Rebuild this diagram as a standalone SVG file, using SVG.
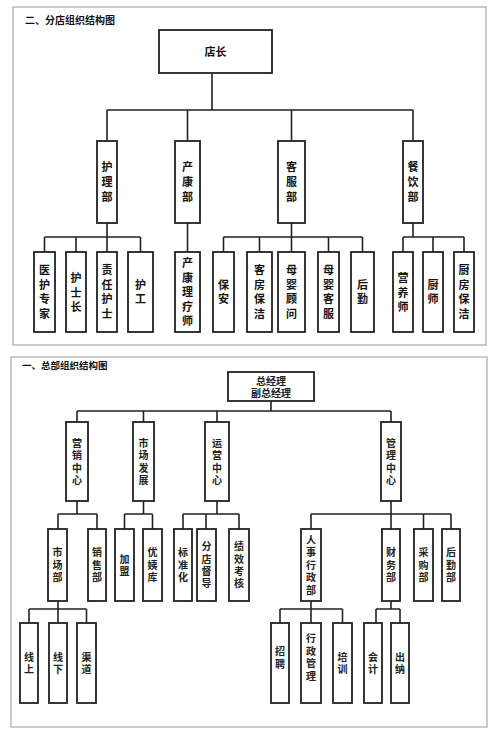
<svg xmlns="http://www.w3.org/2000/svg" width="500" height="733" viewBox="0 0 500 733">
<style>
.frame{fill:none;stroke:#999;stroke-width:1}
.box{fill:#fff;stroke:#222;stroke-width:1.8}
.ln{fill:none;stroke:#222;stroke-width:1.6}
.t{font-family:"Noto Sans CJK SC","Noto Sans",sans-serif;font-weight:bold;fill:#111;text-anchor:middle}
.a{font-size:11px}
.b{font-size:10px;fill:#222}
.title{font-family:"Noto Sans CJK SC","Noto Sans",sans-serif;font-weight:bold;fill:#111}
</style>
<rect width="500" height="733" fill="#fff"/>
<rect class="frame" x="13" y="7" width="473" height="338"/>
<text class="title" x="25" y="24" font-size="10">二、分店组织结构图</text>
<rect class="frame" x="11" y="357" width="476" height="370"/>
<text class="title" x="22" y="369" font-size="9.5">一、总部组织结构图</text>

<g id="connectors">
<path class="ln" d="M212 73V110M107 110H413M107 110V141M187.5 110V141M291.5 110V141M413 110V141"/>
<path class="ln" d="M107 223V237M44.5 237H140.5M44.5 237V252M76 237V252M107 237V252M140.5 237V252"/>
<path class="ln" d="M187.5 223V252"/>
<path class="ln" d="M291.5 223V237M223.5 237H362.5M223.5 237V252M259.5 237V252M291.5 237V252M328.5 237V252M362.5 237V252"/>
<path class="ln" d="M413 223V237M403 237H464M403 237V252M433 237V252M464 237V252"/>
<path class="ln" d="M271 401V411M77 411H391M77 411V422M143.5 411V422M217 411V422M391 411V422"/>
<path class="ln" d="M77 501V514M58 514H97M58 514V529M97 514V529"/>
<path class="ln" d="M143.5 501V514M124.5 514H152.5M124.5 514V529M152.5 514V529"/>
<path class="ln" d="M217 501V514M183 514H239M183 514V529M206 514V529M239 514V529"/>
<path class="ln" d="M391 501V514M311 514H451M311 514V529M391 514V529M423.5 514V529M451 514V529"/>
<path class="ln" d="M58 601V609M29 609H86.5M29 609V623M58 609V623M86.5 609V623"/>
<path class="ln" d="M311 601V609M280 609H342.5M280 609V623M311 609V623M342.5 609V623"/>
<path class="ln" d="M391 601V609M376 609H400M376 609V623M400 609V623"/>
</g>

<g id="n-dianzhang"><rect class="box" x="159" y="30" width="113" height="43"/><text class="t a" x="215.5" y="56">店长</text></g>

<g id="n-hulibu"><rect class="box" x="97" y="141" width="20" height="82"/><text class="t a"><tspan x="107" y="171">护</tspan><tspan x="107" y="186">理</tspan><tspan x="107" y="201">部</tspan></text></g>
<g id="n-chankangbu"><rect class="box" x="175" y="141" width="25" height="82"/><text class="t a"><tspan x="187.5" y="171">产</tspan><tspan x="187.5" y="186">康</tspan><tspan x="187.5" y="201">部</tspan></text></g>
<g id="n-kefubu"><rect class="box" x="278" y="141" width="27" height="82"/><text class="t a"><tspan x="291.5" y="171">客</tspan><tspan x="291.5" y="186">服</tspan><tspan x="291.5" y="201">部</tspan></text></g>
<g id="n-canyinbu"><rect class="box" x="403" y="141" width="20" height="82"/><text class="t a"><tspan x="413" y="171">餐</tspan><tspan x="413" y="186">饮</tspan><tspan x="413" y="201">部</tspan></text></g>

<g id="n-yihuzhuanjia"><rect class="box" x="34" y="252" width="21" height="80"/><text class="t a"><tspan x="44.5" y="274">医</tspan><tspan x="44.5" y="289">护</tspan><tspan x="44.5" y="303">专</tspan><tspan x="44.5" y="318">家</tspan></text></g>
<g id="n-hushizhang"><rect class="box" x="66" y="252" width="20" height="80"/><text class="t a"><tspan x="76" y="282">护</tspan><tspan x="76" y="297">士</tspan><tspan x="76" y="311">长</tspan></text></g>
<g id="n-zerenhushi"><rect class="box" x="97" y="252" width="20" height="80"/><text class="t a"><tspan x="107" y="274">责</tspan><tspan x="107" y="289">任</tspan><tspan x="107" y="303">护</tspan><tspan x="107" y="318">士</tspan></text></g>
<g id="n-hugong"><rect class="box" x="128" y="252" width="25" height="80"/><text class="t a"><tspan x="140.5" y="289">护</tspan><tspan x="140.5" y="303">工</tspan></text></g>
<g id="n-chankangliliaoshi"><rect class="box" x="175" y="252" width="25" height="80"/><text class="t a"><tspan x="187.5" y="267">产</tspan><tspan x="187.5" y="282">康</tspan><tspan x="187.5" y="296">理</tspan><tspan x="187.5" y="311">疗</tspan><tspan x="187.5" y="325">师</tspan></text></g>
<g id="n-baoan"><rect class="box" x="213" y="252" width="21" height="80"/><text class="t a"><tspan x="223.5" y="289">保</tspan><tspan x="223.5" y="303">安</tspan></text></g>
<g id="n-kefangbaojie"><rect class="box" x="247" y="252" width="25" height="80"/><text class="t a"><tspan x="259.5" y="274">客</tspan><tspan x="259.5" y="289">房</tspan><tspan x="259.5" y="303">保</tspan><tspan x="259.5" y="318">洁</tspan></text></g>
<g id="n-muyingguwen"><rect class="box" x="278" y="252" width="27" height="80"/><text class="t a"><tspan x="291.5" y="274">母</tspan><tspan x="291.5" y="289">婴</tspan><tspan x="291.5" y="303">顾</tspan><tspan x="291.5" y="318">问</tspan></text></g>
<g id="n-muyingkefu"><rect class="box" x="318" y="252" width="21" height="80"/><text class="t a"><tspan x="328.5" y="274">母</tspan><tspan x="328.5" y="289">婴</tspan><tspan x="328.5" y="303">客</tspan><tspan x="328.5" y="318">服</tspan></text></g>
<g id="n-houqin"><rect class="box" x="351" y="252" width="23" height="80"/><text class="t a"><tspan x="362.5" y="289">后</tspan><tspan x="362.5" y="303">勤</tspan></text></g>
<g id="n-yingyangshi"><rect class="box" x="393" y="252" width="20" height="80"/><text class="t a"><tspan x="403" y="282">营</tspan><tspan x="403" y="297">养</tspan><tspan x="403" y="311">师</tspan></text></g>
<g id="n-chushi"><rect class="box" x="423" y="252" width="20" height="80"/><text class="t a"><tspan x="433" y="289">厨</tspan><tspan x="433" y="303">师</tspan></text></g>
<g id="n-chufangbaojie"><rect class="box" x="454" y="252" width="20" height="80"/><text class="t a"><tspan x="464" y="274">厨</tspan><tspan x="464" y="289">房</tspan><tspan x="464" y="303">保</tspan><tspan x="464" y="318">洁</tspan></text></g>

<g id="n-zongjingli"><rect class="box" x="228" y="372" width="86" height="29"/><text class="t b" x="271" y="385">总经理</text><text class="t b" x="271" y="397">副总经理</text></g>

<g id="n-yingxiaozhongxin"><rect class="box" x="66" y="422" width="22" height="79"/><text class="t b"><tspan x="77" y="447">营</tspan><tspan x="77" y="459">销</tspan><tspan x="77" y="472">中</tspan><tspan x="77" y="484">心</tspan></text></g>
<g id="n-shichangfazhan"><rect class="box" x="133" y="422" width="21" height="79"/><text class="t b"><tspan x="143.5" y="447">市</tspan><tspan x="143.5" y="459">场</tspan><tspan x="143.5" y="472">发</tspan><tspan x="143.5" y="484">展</tspan></text></g>
<g id="n-yunyingzhongxin"><rect class="box" x="205" y="422" width="24" height="79"/><text class="t b"><tspan x="217" y="447">运</tspan><tspan x="217" y="459">营</tspan><tspan x="217" y="472">中</tspan><tspan x="217" y="484">心</tspan></text></g>
<g id="n-guanlizhongxin"><rect class="box" x="381" y="422" width="20" height="79"/><text class="t b"><tspan x="391" y="447">管</tspan><tspan x="391" y="459">理</tspan><tspan x="391" y="472">中</tspan><tspan x="391" y="484">心</tspan></text></g>

<g id="n-shichangbu"><rect class="box" x="48" y="529" width="19" height="72"/><text class="t b"><tspan x="57.5" y="556">市</tspan><tspan x="57.5" y="568.5">场</tspan><tspan x="57.5" y="581">部</tspan></text></g>
<g id="n-xiaoshoubu"><rect class="box" x="88" y="529" width="18" height="72"/><text class="t b"><tspan x="97" y="556">销</tspan><tspan x="97" y="568.5">售</tspan><tspan x="97" y="581">部</tspan></text></g>
<g id="n-jiameng"><rect class="box" x="115" y="529" width="19" height="72"/><text class="t b"><tspan x="124.5" y="563">加</tspan><tspan x="124.5" y="575">盟</tspan></text></g>
<g id="n-youyiku"><rect class="box" x="143" y="529" width="19" height="72"/><text class="t b"><tspan x="152.5" y="556">优</tspan><tspan x="152.5" y="568.5">姨</tspan><tspan x="152.5" y="581">库</tspan></text></g>
<g id="n-biaozhunhua"><rect class="box" x="174" y="529" width="18" height="72"/><text class="t b"><tspan x="183" y="556">标</tspan><tspan x="183" y="568.5">准</tspan><tspan x="183" y="581">化</tspan></text></g>
<g id="n-fendiandudao"><rect class="box" x="197" y="529" width="19" height="72"/><text class="t b"><tspan x="206.5" y="550">分</tspan><tspan x="206.5" y="563">店</tspan><tspan x="206.5" y="575">督</tspan><tspan x="206.5" y="587">导</tspan></text></g>
<g id="n-jixiaokaohe"><rect class="box" x="229" y="529" width="20" height="72"/><text class="t b"><tspan x="239" y="550">绩</tspan><tspan x="239" y="563">效</tspan><tspan x="239" y="575">考</tspan><tspan x="239" y="587">核</tspan></text></g>
<g id="n-renshixingzhengbu"><rect class="box" x="301" y="529" width="20" height="72"/><text class="t b"><tspan x="311" y="544">人</tspan><tspan x="311" y="556">事</tspan><tspan x="311" y="569">行</tspan><tspan x="311" y="581">政</tspan><tspan x="311" y="594">部</tspan></text></g>
<g id="n-caiwubu"><rect class="box" x="382" y="529" width="18" height="72"/><text class="t b"><tspan x="391" y="556">财</tspan><tspan x="391" y="568.5">务</tspan><tspan x="391" y="581">部</tspan></text></g>
<g id="n-caigoubu"><rect class="box" x="414" y="529" width="19" height="72"/><text class="t b"><tspan x="423.5" y="556">采</tspan><tspan x="423.5" y="568.5">购</tspan><tspan x="423.5" y="581">部</tspan></text></g>
<g id="n-houqinbu"><rect class="box" x="442" y="529" width="18" height="72"/><text class="t b"><tspan x="451" y="556">后</tspan><tspan x="451" y="568.5">勤</tspan><tspan x="451" y="581">部</tspan></text></g>

<g id="n-xianshang"><rect class="box" x="20" y="623" width="18" height="80"/><text class="t b"><tspan x="29" y="661">线</tspan><tspan x="29" y="673">上</tspan></text></g>
<g id="n-xianxia"><rect class="box" x="49" y="623" width="18" height="80"/><text class="t b"><tspan x="58" y="661">线</tspan><tspan x="58" y="673">下</tspan></text></g>
<g id="n-qudao"><rect class="box" x="77" y="623" width="19" height="80"/><text class="t b"><tspan x="86.5" y="661">渠</tspan><tspan x="86.5" y="673">道</tspan></text></g>
<g id="n-zhaopin"><rect class="box" x="271" y="623" width="18" height="80"/><text class="t b"><tspan x="280" y="655">招</tspan><tspan x="280" y="668">聘</tspan></text></g>
<g id="n-xingzhengguanli"><rect class="box" x="301" y="623" width="20" height="80"/><text class="t b"><tspan x="311" y="642">行</tspan><tspan x="311" y="655">政</tspan><tspan x="311" y="667">管</tspan><tspan x="311" y="680">理</tspan></text></g>
<g id="n-peixun"><rect class="box" x="333" y="623" width="19" height="80"/><text class="t b"><tspan x="342.5" y="661">培</tspan><tspan x="342.5" y="673">训</tspan></text></g>
<g id="n-kuaiji"><rect class="box" x="364" y="623" width="18" height="80"/><text class="t b"><tspan x="373" y="661">会</tspan><tspan x="373" y="673">计</tspan></text></g>
<g id="n-chuna"><rect class="box" x="391" y="623" width="18" height="80"/><text class="t b"><tspan x="400" y="661">出</tspan><tspan x="400" y="673">纳</tspan></text></g>
</svg>
